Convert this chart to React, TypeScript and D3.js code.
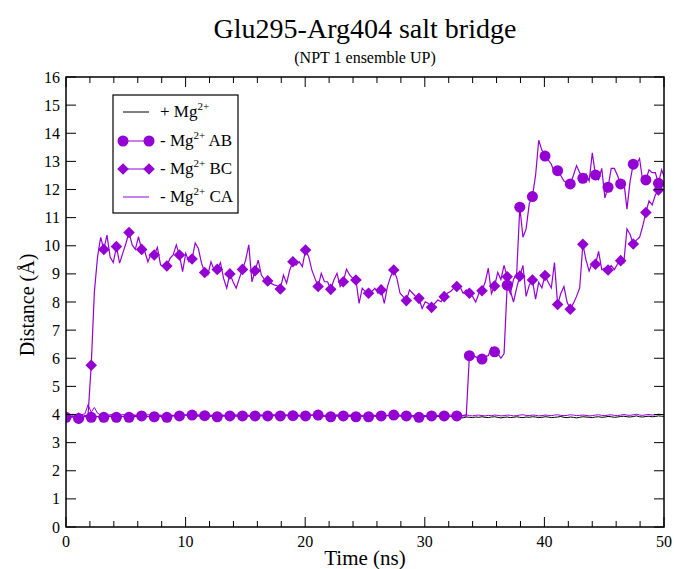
import React from 'react';
import * as d3 from 'd3';

// Sampling of the trajectories (ns between stored frames); every 4th frame carries a symbol.
const SAMPLE_STEP_NS = 0.2635;
const MARKER_EVERY = 4;

// + Mg2+
const plusMg = [
  3.93, 3.92, 3.94, 3.93, 3.91, 3.92, 3.95, 3.93, 3.92, 3.94,
  3.93, 3.91, 3.92, 3.94, 3.93, 3.95, 3.94, 3.92, 3.93, 3.95,
  3.94, 3.92, 3.93, 3.94, 3.96, 3.95, 3.93, 3.94, 3.92, 3.93,
  3.95, 3.94, 3.93, 3.95, 3.96, 3.94, 3.93, 3.95, 3.97, 3.95,
  3.94, 3.96, 3.95, 3.93, 3.94, 3.96, 3.95, 3.97, 3.96, 3.94,
  3.95, 3.97, 3.96, 3.94, 3.95, 3.96, 3.97, 3.95, 3.94, 3.96,
  3.95, 3.97, 3.98, 3.96, 3.95, 3.94, 3.96, 3.97, 3.95, 3.96,
  3.98, 3.96, 3.95, 3.97, 3.96, 3.94, 3.95, 3.97, 3.98, 3.96,
  3.95, 3.96, 3.94, 3.95, 3.97, 3.96, 3.95, 3.94, 3.96, 3.95,
  3.97, 3.96, 3.94, 3.95, 3.93, 3.94, 3.96, 3.95, 3.94, 3.93,
  3.95, 3.94, 3.96, 3.95, 3.93, 3.94, 3.95, 3.93, 3.92, 3.94,
  3.95, 3.93, 3.94, 3.92, 3.93, 3.95, 3.94, 3.92, 3.93, 3.94,
  3.92, 3.91, 3.93, 3.92, 3.94, 3.90, 3.88, 3.91, 3.90, 3.89,
  3.91, 3.90, 3.92, 3.90, 3.89, 3.91, 3.92, 3.90, 3.88, 3.90,
  3.91, 3.89, 3.90, 3.92, 3.90, 3.89, 3.91, 3.90, 3.92, 3.91,
  3.89, 3.90, 3.92, 3.91, 3.89, 3.90, 3.91, 3.93, 3.90, 3.89,
  3.91, 3.90, 3.88, 3.90, 3.92, 3.91, 3.90, 3.89, 3.91, 3.92,
  3.90, 3.91, 3.93, 3.92, 3.90, 3.91, 3.93, 3.94, 3.92, 3.91,
  3.93, 3.95, 3.92, 3.91, 3.93, 3.94, 3.92, 3.93, 3.95, 3.94,
  3.93,
];

// - Mg2+ AB (circles)
const minusAB = [
  3.90, 3.93, 3.95, 3.92,  3.86, 3.90, 3.93, 3.92,  3.90, 3.94, 3.92, 3.95,
  3.90, 3.93, 3.95, 3.92,  3.90, 3.94, 3.93, 3.92,  3.90, 3.93, 3.96, 3.95,
  3.95, 3.93, 3.92, 3.94,  3.92, 3.94, 3.93, 3.91,  3.90, 3.93, 3.95, 3.96,
  3.95, 3.97, 3.98, 3.96,  3.98, 3.96, 3.95, 3.97,  3.96, 3.94, 3.93, 3.95,
  3.92, 3.94, 3.96, 3.95,  3.95, 3.96, 3.94, 3.95,  3.95, 3.96, 3.97, 3.95,
  3.95, 3.94, 3.96, 3.95,  3.95, 3.96, 3.97, 3.96,  3.95, 3.94, 3.96, 3.97,
  3.96, 3.95, 3.94, 3.96,  3.95, 3.96, 3.97, 3.98,  3.98, 3.96, 3.94, 3.93,
  3.92, 3.94, 3.95, 3.96,  3.95, 3.94, 3.93, 3.92,  3.92, 3.93, 3.94, 3.93,
  3.92, 3.94, 3.95, 3.96,  3.95, 3.96, 3.97, 3.98,  3.98, 3.96, 3.95, 3.94,
  3.95, 3.93, 3.92, 3.91,  3.90, 3.92, 3.94, 3.95,  3.95, 3.94, 3.96, 3.95,
  3.95, 3.96, 3.94, 3.95,  3.95, 3.93, 3.96, 3.94,  6.09, 6.10, 6.05, 6.00,
  5.97, 6.05, 6.10, 6.38,  6.23, 6.17, 6.00, 6.17,  8.60, 8.30, 8.80, 9.00,
  11.37, 10.30, 10.60, 11.50,  11.75, 12.50, 13.75, 13.40,  13.19, 13.05, 12.90, 12.60,
  12.67, 12.50, 12.30, 12.25,  12.20, 12.50, 12.85, 12.60,  12.40, 12.55, 12.30, 13.30,
  12.52, 12.35, 12.75, 11.70,  12.08, 12.75, 12.75, 12.50,  12.20, 12.30, 11.30, 12.30,
  12.90, 12.90, 13.10, 12.30,  12.34, 12.70, 12.60, 12.60,  12.22, 12.70, 12.40,
];

// - Mg2+ BC (diamonds)
const minusBC = [
  3.90, 3.93, 3.91, 3.94,  3.87, 3.92, 3.95, 3.98,  5.75, 8.35, 9.60, 10.30,
  9.87, 10.38, 9.60, 9.40,  9.97, 9.38, 9.73, 10.08,  10.47, 10.03, 9.87, 10.32,
  9.87, 9.79, 9.43, 9.73,  9.67, 9.94, 9.32, 9.26,  9.28, 9.55, 9.67, 10.03,
  9.67, 9.08, 9.73, 9.43,  9.53, 10.10, 9.90, 9.38,  9.05, 8.96, 9.43, 9.14,
  9.16, 9.40, 8.84, 8.49,  9.00, 8.72, 8.49, 8.84,  9.16, 9.49, 10.03, 8.72,
  9.11, 9.49, 8.96, 8.80,  8.75, 8.67, 8.61, 8.58,  8.46, 8.96, 8.67, 9.14,
  9.43, 9.31, 9.43, 9.26,  9.85, 9.61, 9.14, 8.84,  8.55, 9.02, 8.72, 8.72,
  8.45, 8.78, 9.02, 8.55,  8.72, 9.17, 8.96, 8.84,  8.78, 7.95, 8.49, 8.37,
  8.31, 8.37, 8.49, 8.31,  8.43, 7.95, 8.55, 8.90,  9.14, 8.84, 8.31, 8.19,
  8.05, 8.43, 8.31, 8.19,  8.13, 7.77, 8.01, 7.95,  7.81, 7.95, 8.07, 8.01,
  8.19, 8.31, 8.37, 8.49,  8.55, 8.55, 8.31, 8.43,  8.31, 8.20, 8.00, 8.30,
  8.40, 8.70, 9.20, 8.30,  8.57, 9.05, 8.80, 9.30,  8.90, 8.40, 8.00, 8.50,
  8.92, 9.30, 8.20, 8.60,  8.78, 8.10, 8.70, 8.50,  8.94, 8.70, 8.50, 9.40,
  7.91, 8.30, 8.55, 8.00,  7.74, 7.95, 8.20, 8.50,  10.05, 9.50, 9.10, 9.40,
  9.34, 9.80, 9.15, 9.20,  9.14, 9.30, 9.15, 9.35,  9.47, 9.40, 10.60, 10.40,
  10.06, 10.20, 10.30, 10.70,  11.18, 11.60, 11.45, 11.80,  11.98, 12.10, 12.20,
];

// - Mg2+ CA
const minusCA = [
  4.00, 3.98, 4.01, 3.99, 3.97, 4.00, 4.02, 4.35, 4.08, 4.25,
  4.05, 3.98, 4.00, 3.97, 3.99, 4.01, 3.98, 3.97, 4.00, 3.98,
  3.97, 3.99, 3.98, 3.96, 3.98, 3.97, 3.99, 3.98, 3.96, 3.97,
  3.98, 3.96, 3.97, 3.99, 3.97, 3.96, 3.98, 3.97, 3.99, 3.98,
  3.96, 3.97, 3.99, 3.98, 3.96, 3.97, 3.98, 3.96, 3.97, 3.99,
  3.98, 3.96, 3.97, 3.98, 3.99, 3.97, 3.96, 3.98, 3.97, 3.96,
  3.98, 3.99, 3.97, 3.96, 3.98, 3.97, 3.99, 3.98, 3.96, 3.97,
  3.98, 3.96, 3.97, 3.99, 3.98, 3.96, 3.97, 3.98, 3.97, 3.99,
  3.98, 3.96, 3.97, 3.98, 3.96, 3.97, 3.99, 3.98, 3.96, 3.97,
  3.98, 3.97, 3.96, 3.98, 3.97, 3.96, 3.98, 3.99, 3.97, 3.96,
  3.98, 3.97, 3.96, 3.98, 3.97, 3.99, 3.98, 3.96, 3.97, 3.98,
  3.96, 3.97, 3.99, 3.98, 3.96, 3.97, 3.98, 3.96, 3.97, 3.98,
  3.97, 3.96, 3.98, 3.97, 3.96, 3.95, 3.97, 3.99, 3.96, 3.95,
  3.97, 3.98, 3.96, 3.95, 3.97, 3.96, 3.98, 3.97, 3.95, 3.96,
  3.98, 3.97, 3.95, 3.96, 3.98, 3.99, 3.97, 3.96, 3.98, 3.97,
  3.95, 3.96, 3.98, 3.97, 3.96, 3.98, 3.99, 3.97, 3.96, 3.97,
  3.99, 3.98, 3.96, 3.97, 3.98, 3.97, 3.95, 3.96, 3.98, 3.99,
  3.97, 3.96, 3.98, 3.99, 3.97, 3.96, 3.98, 4.00, 3.98, 3.97,
  3.99, 4.01, 3.98, 3.97, 3.99, 4.00, 3.98, 3.99, 4.01, 4.00,
  3.99,
];

const xMajorTicks = [0, 10, 20, 30, 40, 50];
const xMinorTicks = [2, 4, 6, 8, 12, 14, 16, 18, 22, 24, 26, 28, 32, 34, 36, 38, 42, 44, 46, 48];
const yTicks = [0, 1, 2, 3, 4, 5, 6, 7, 8, 9, 10, 11, 12, 13, 14, 15, 16];

const legendItems = [
  { sign: '+', suffix: '', color: '#000000', marker: 'none' },
  { sign: '-', suffix: ' AB', color: '#9400d3', marker: 'circle' },
  { sign: '-', suffix: ' BC', color: '#9400d3', marker: 'diamond' },
  { sign: '-', suffix: ' CA', color: '#9400d3', marker: 'none' },
];

const W = 674;
const H = 569;
const PLOT = { left: 66, right: 664, top: 77, bottom: 527 };
const PURPLE = '#9400d3';
const FONT = '"Liberation Serif", "DejaVu Serif", serif';
const MAJOR = 10;
const MINOR = 6;

const diamondPath = (cx: number, cy: number, r: number) =>
  `M${cx},${cy - r}L${cx + r},${cy}L${cx},${cy + r}L${cx - r},${cy}Z`;

export default function App() {
  const x = d3.scaleLinear().domain([0, 50]).range([PLOT.left, PLOT.right]);
  const y = d3.scaleLinear().domain([0, 16]).range([PLOT.bottom, PLOT.top]);
  const line = d3
    .line<number>()
    .x((_, i) => x(i * SAMPLE_STEP_NS))
    .y((d) => y(d));

  const markerIdx = (arr: number[]) =>
    arr.map((_, i) => i).filter((i) => i % MARKER_EVERY === 0 && i * SAMPLE_STEP_NS <= 50);

  const legendX = 113;
  const legendY = 95;
  const rowY = [112, 141, 169, 197];

  return (
    <svg
      width={W}
      height={H}
      viewBox={`0 0 ${W} ${H}`}
      style={{ position: 'absolute', left: 0, top: 0, background: '#fff' }}
      fontFamily={FONT}
    >
      <rect x={0} y={0} width={W} height={H} fill="#fff" />
      <defs>
        <clipPath id="plot-clip">
          <rect x={PLOT.left} y={PLOT.top} width={PLOT.right - PLOT.left} height={PLOT.bottom - PLOT.top} />
        </clipPath>
      </defs>

      {/* Titles */}
      <text x={365} y={38} textAnchor="middle" fontSize={28}>
        Glu295-Arg404 salt bridge
      </text>
      <text x={365} y={63} textAnchor="middle" fontSize={16}>
        (NPT 1 ensemble UP)
      </text>

      {/* Series */}
      <g clipPath="url(#plot-clip)">
        <path d={line(plusMg) || ''} fill="none" stroke="#000" strokeWidth={1} />
        <path d={line(minusAB) || ''} fill="none" stroke={PURPLE} strokeWidth={1.2} />
        {markerIdx(minusAB).map((i) => (
          <circle key={`ab${i}`} cx={x(i * SAMPLE_STEP_NS)} cy={y(minusAB[i])} r={5.5} fill={PURPLE} />
        ))}
        <path d={line(minusBC) || ''} fill="none" stroke={PURPLE} strokeWidth={1.2} />
        {markerIdx(minusBC).map((i) => (
          <path key={`bc${i}`} d={diamondPath(x(i * SAMPLE_STEP_NS), y(minusBC[i]), 5.8)} fill={PURPLE} />
        ))}
        <path d={line(minusCA) || ''} fill="none" stroke={PURPLE} strokeWidth={1} />
      </g>

      {/* Frame and ticks */}
      <rect
        x={PLOT.left}
        y={PLOT.top}
        width={PLOT.right - PLOT.left}
        height={PLOT.bottom - PLOT.top}
        fill="none"
        stroke="#000"
        strokeWidth={1.5}
      />
      {xMajorTicks.map((t) => (
        <g key={`xM${t}`}>
          <line x1={x(t)} x2={x(t)} y1={PLOT.bottom} y2={PLOT.bottom - MAJOR} stroke="#000" />
          <line x1={x(t)} x2={x(t)} y1={PLOT.top} y2={PLOT.top + MAJOR} stroke="#000" />
          <text x={x(t)} y={547} textAnchor="middle" fontSize={16}>
            {t}
          </text>
        </g>
      ))}
      {xMinorTicks.map((t) => (
        <g key={`xm${t}`}>
          <line x1={x(t)} x2={x(t)} y1={PLOT.bottom} y2={PLOT.bottom - MINOR} stroke="#000" />
          <line x1={x(t)} x2={x(t)} y1={PLOT.top} y2={PLOT.top + MINOR} stroke="#000" />
        </g>
      ))}
      {yTicks.map((v) => (
        <g key={`y${v}`}>
          <line x1={PLOT.left} x2={PLOT.left + MAJOR} y1={y(v)} y2={y(v)} stroke="#000" />
          <line x1={PLOT.right} x2={PLOT.right - MAJOR} y1={y(v)} y2={y(v)} stroke="#000" />
          <text x={60} y={y(v)} dy="0.35em" textAnchor="end" fontSize={16}>
            {v}
          </text>
        </g>
      ))}

      {/* Axis titles */}
      <text x={365} y={565} textAnchor="middle" fontSize={21}>
        Time (ns)
      </text>
      <text transform="translate(34,305) rotate(-90)" textAnchor="middle" fontSize={20}>
        Distance (Å)
      </text>

      {/* Legend */}
      <rect x={legendX} y={legendY} width={125} height={118} fill="#fff" stroke="#000" strokeWidth={1.2} />
      {legendItems.map((it, k) => {
        const ly = rowY[k];
        return (
          <g key={`lg${k}`}>
            <line x1={123} x2={149} y1={ly} y2={ly} stroke={it.color} strokeWidth={1} />
            {it.marker === 'circle' && (
              <>
                <circle cx={123} cy={ly} r={5.5} fill={it.color} />
                <circle cx={149} cy={ly} r={5.5} fill={it.color} />
              </>
            )}
            {it.marker === 'diamond' && (
              <>
                <path d={diamondPath(123, ly, 5.8)} fill={it.color} />
                <path d={diamondPath(149, ly, 5.8)} fill={it.color} />
              </>
            )}
            <text x={160} y={ly + 5} fontSize={17}>
              {it.sign} Mg
              <tspan dy={-7} fontSize={11}>
                2+
              </tspan>
              <tspan dy={7}>{it.suffix}</tspan>
            </text>
          </g>
        );
      })}
    </svg>
  );
}
